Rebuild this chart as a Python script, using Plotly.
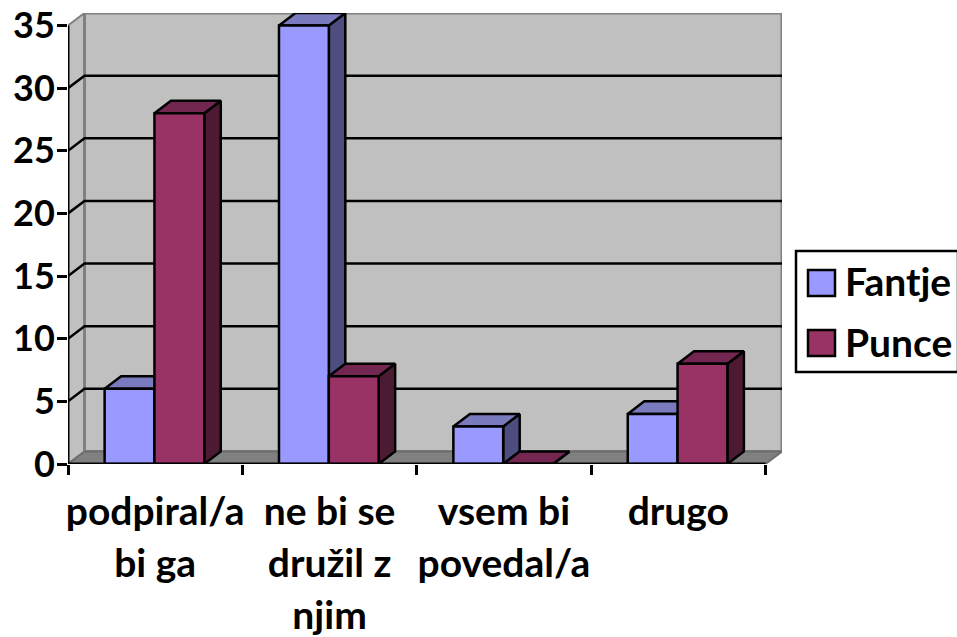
import plotly.graph_objects as go

# ---- data ----
category_lines = [["podpiral/a", "bi ga"], ["ne bi se", "družil z", "njim"], ["vsem bi", "povedal/a"], ["drugo"]]
series_names = ["Fantje", "Punce"]
fantje = [6, 35, 3, 4]
punce = [28, 7, 0, 8]
y_ticks = [0, 5, 10, 15, 20, 25, 30, 35]

# ---- style ----
FONT = "Lato"
TXT = 39
COL = {"Fantje": ("#9999FF", "#7A7ABF", "#4D4D80"), "Punce": ("#993366", "#732650", "#4D1A33")}
W, H = 957, 637
L, T, R, B = 68, 13, 782, 464
DX = 16.5 / 174.4   # oblique depth in category units
DY = 1              # oblique depth in value units
BAR = 1 / 3.5
GAP = 0.21
YMAX = 35
n = len(category_lines)

fig = go.Figure()


def poly(xs, ys, fill=None, line="black", lw=2.5, name=None):
    fig.add_trace(go.Scatter(
        x=xs, y=ys, mode="lines", fill="toself" if fill else None, fillcolor=fill,
        line=dict(color=line, width=lw), showlegend=False, hoverinfo="skip",
        cliponaxis=False, name=name))


# walls and floor
poly([0, DX, DX, 0, 0], [0, DY, YMAX + DY, YMAX, 0], "#C0C0C0", "#808080", 2)
poly([DX, n + DX, n + DX, DX, DX], [DY, DY, YMAX + DY, YMAX + DY, DY], "#C0C0C0", "#808080", 3)
poly([0, n, n + DX, DX, 0], [0, 0, DY, DY, 0], "#808080", "#6E6E6E", 2)

# gridlines on the side and back walls
for v in y_ticks[1:-1]:
    poly([0, DX, n + DX], [v, v + DY, v + DY])

# bars
for i in range(n):
    for j, (nm, vals) in enumerate(zip(series_names, [fantje, punce])):
        v = vals[i]
        x0 = i + GAP + j * BAR
        x1 = x0 + BAR
        front, top, side = COL[nm]
        poly([x1, x1 + DX, x1 + DX, x1, x1], [0, DY, v + DY, v, 0], side)
        poly([x0, x1, x1 + DX, x0 + DX, x0], [v, v, v + DY, v + DY, v], top)
        poly([x0, x1, x1, x0, x0], [0, 0, v, v, 0], front, name=nm)

# axis lines
poly([0, 0], [0, YMAX], lw=3)
poly([0, n], [0, 0], lw=3)


def span(s):
    return f'<span style="font-size:{TXT}px">{s}</span>'


tick_text = ["<br>".join(span(s) for s in lines) for lines in category_lines]


def px(x):
    return (x - L) / (R - L)


def py(y):
    return (B - y) / (B - T)


shapes = [dict(type="rect", xref="paper", yref="paper", x0=px(796), x1=px(958), y0=py(372), y1=py(251),
               line=dict(color="black", width=2.5), fillcolor="white")]
annos = []
for nm, cy, ty in zip(series_names, [283, 343], [281, 342]):
    shapes.append(dict(type="rect", xref="paper", yref="paper", x0=px(808), x1=px(835), y0=py(cy + 13), y1=py(cy - 13),
                       line=dict(color="black", width=2.5), fillcolor=COL[nm][0]))
    annos.append(dict(text=f"<b>{nm}</b>", xref="paper", yref="paper", x=px(843), y=py(ty), xanchor="left",
                      yanchor="middle", showarrow=False, font=dict(family=FONT, size=TXT, color="black")))

fig.update_layout(
    width=W, height=H, margin=dict(l=L, t=T, r=W - R, b=H - B, pad=0, autoexpand=False),
    paper_bgcolor="white", plot_bgcolor="rgba(0,0,0,0)", showlegend=False,
    shapes=shapes, annotations=annos,
    font=dict(family=FONT, color="black"),
    xaxis=dict(range=[0, n + DX], tickmode="array", tickvals=[i + 0.5 for i in range(n)], ticktext=tick_text,
               ticks="", showgrid=False, zeroline=False, showline=False, tickangle=0,
               tickfont=dict(family=FONT, size=40, weight="bold", color="black"),
               ticklabelstandoff=20,
               minor=dict(tickvals=list(range(n + 1)), ticks="outside", ticklen=10, tickwidth=2.5, tickcolor="black", showgrid=False)),
    yaxis=dict(range=[0, YMAX + DY], tickmode="array", tickvals=y_ticks, ticks="outside", ticklen=10, tickwidth=2.5,
               tickcolor="black", showgrid=False, zeroline=False, showline=False,
               tickfont=dict(family=FONT, size=36, weight="bold", color="black"), ticklabelstandoff=-5),
)
fig.write_html("out.html", config={"displayModeBar": False},
               post_script="document.body.style.margin='0';document.documentElement.style.overflow='hidden';")
